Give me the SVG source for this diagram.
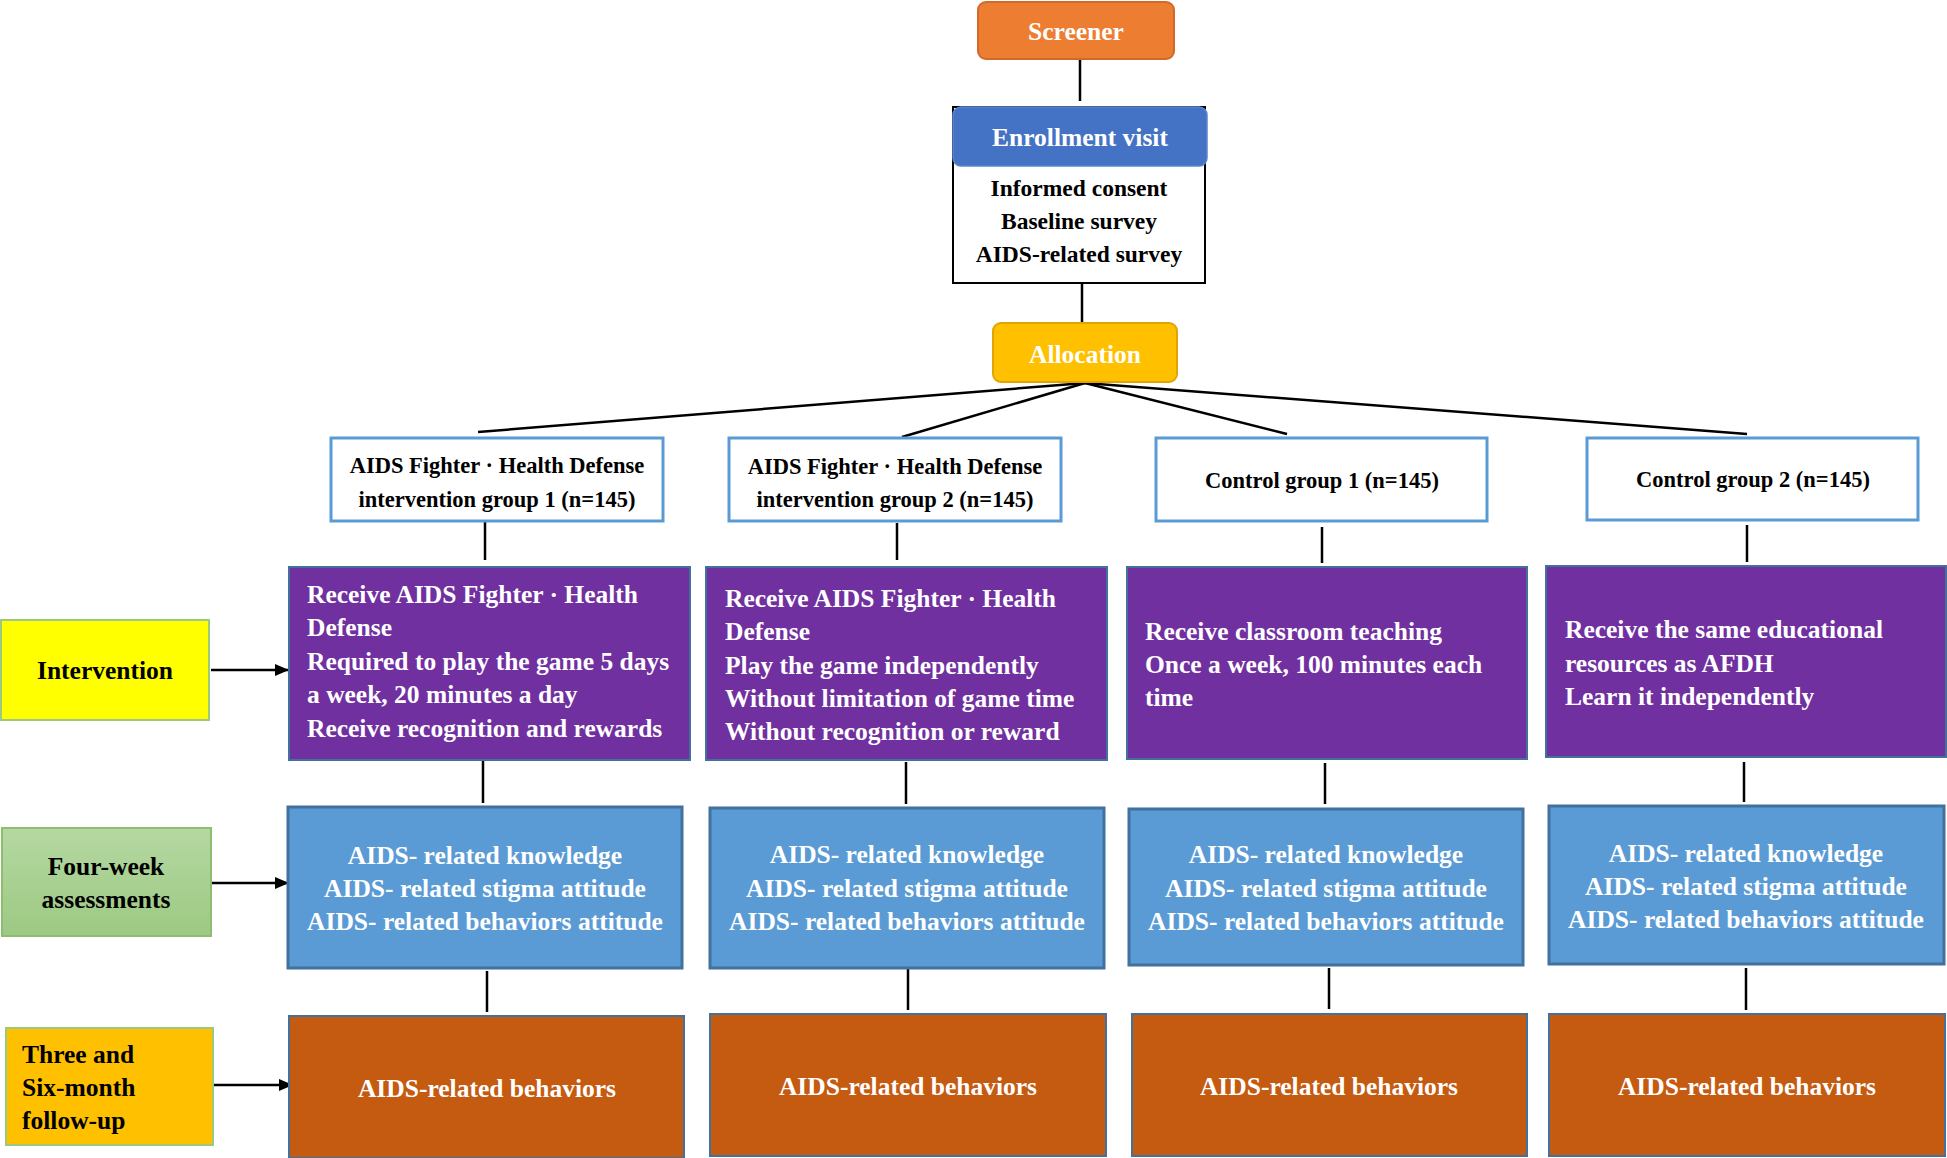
<svg xmlns="http://www.w3.org/2000/svg" width="1947" height="1158" viewBox="0 0 1947 1158">
<defs>
<style>
text{font-family:"Liberation Serif","Times New Roman",serif;font-weight:bold;}
.w{fill:#fff}
.k{fill:#000}
.c{text-anchor:middle}
.f25{font-size:25.5px}
.f23{font-size:23.5px}
.f22{font-size:22.5px}
.grp{fill:#fff;stroke:#5B9BD5;stroke-width:3}
.pur{fill:#7030A0;stroke:#41719C;stroke-width:2}
.blu{fill:#5B9BD5;stroke:#41719C;stroke-width:3}
.org{fill:#C55A11;stroke:#41719C;stroke-width:2}
.ln{stroke:#000;stroke-width:2.5;fill:none}
</style>
<linearGradient id="gGreen" x1="0" y1="0" x2="0" y2="1">
<stop offset="0" stop-color="#B5D8A2"/>
<stop offset="1" stop-color="#9DC983"/>
</linearGradient>
<marker id="arr" markerWidth="14" markerHeight="14" refX="13" refY="7" orient="auto" markerUnits="userSpaceOnUse">
<path d="M0,1 L14,7 L0,13 z" fill="#000"/>
</marker>
</defs>

<g id="connectors">
<line class="ln" x1="1080" y1="59" x2="1080" y2="101"/>
<line class="ln" x1="1082" y1="283" x2="1082" y2="324"/>
<line class="ln" x1="1085" y1="383" x2="478" y2="432"/>
<line class="ln" x1="1085" y1="383" x2="902" y2="437"/>
<line class="ln" x1="1085" y1="383" x2="1287" y2="434"/>
<line class="ln" x1="1085" y1="383" x2="1747" y2="434"/>
<line class="ln" x1="485" y1="518" x2="485" y2="560"/>
<line class="ln" x1="897" y1="523" x2="897" y2="560"/>
<line class="ln" x1="1322" y1="527" x2="1322" y2="563"/>
<line class="ln" x1="1747" y1="525" x2="1747" y2="562"/>
<line class="ln" x1="483" y1="761" x2="483" y2="803"/>
<line class="ln" x1="906" y1="762" x2="906" y2="804"/>
<line class="ln" x1="1325" y1="763" x2="1325" y2="804"/>
<line class="ln" x1="1744" y1="762" x2="1744" y2="802"/>
<line class="ln" x1="487" y1="971" x2="487" y2="1012"/>
<line class="ln" x1="908" y1="968" x2="908" y2="1010"/>
<line class="ln" x1="1329" y1="968" x2="1329" y2="1009"/>
<line class="ln" x1="1746" y1="968" x2="1746" y2="1010"/>
<line class="ln" x1="211" y1="670" x2="288" y2="670" marker-end="url(#arr)"/>
<line class="ln" x1="211" y1="883" x2="288" y2="883" marker-end="url(#arr)"/>
<line class="ln" x1="214" y1="1085" x2="292" y2="1085" marker-end="url(#arr)"/>
</g>

<g id="screener">
<rect x="978" y="2" width="196" height="57" rx="8" fill="#ED7D31" stroke="#D0692A" stroke-width="2"/>
<text class="w c f25" x="1076" y="40">Screener</text>
</g>

<g id="enrollment">
<rect x="953" y="107" width="252" height="176" fill="#fff" stroke="#000" stroke-width="2"/>
<rect x="953" y="107" width="254" height="59" rx="8" fill="#4472C4" stroke="#5A86D0" stroke-width="1.5"/>
<text class="w c f25" x="1080" y="146">Enrollment visit</text>
<text class="k c f23" x="1079" y="196">Informed consent</text>
<text class="k c f23" x="1079" y="229">Baseline survey</text>
<text class="k c f23" x="1079" y="262">AIDS-related survey</text>
</g>

<g id="allocation">
<rect x="993" y="323" width="184" height="59" rx="8" fill="#FFC000" stroke="#E0A500" stroke-width="2"/>
<text class="w c f25" x="1085" y="363">Allocation</text>
</g>

<g id="group1">
<rect class="grp" x="331" y="438" width="332" height="83"/>
<text class="k c f22" x="497" y="473">AIDS Fighter · Health Defense</text>
<text class="k c f22" x="497" y="507">intervention group 1 (n=145)</text>
</g>
<g id="group2">
<rect class="grp" x="729" y="438" width="332" height="83"/>
<text class="k c f22" x="895" y="474">AIDS Fighter · Health Defense</text>
<text class="k c f22" x="895" y="507">intervention group 2 (n=145)</text>
</g>
<g id="control1">
<rect class="grp" x="1156" y="438" width="331" height="83"/>
<text class="k c f22" x="1322" y="488">Control group 1 (n=145)</text>
</g>
<g id="control2">
<rect class="grp" x="1587" y="438" width="331" height="82"/>
<text class="k c f22" x="1753" y="487">Control group 2 (n=145)</text>
</g>

<g id="intervention1">
<rect class="pur" x="289" y="567" width="401" height="193"/>
<text class="w f25" x="307" y="603">Receive AIDS Fighter · Health</text>
<text class="w f25" x="307" y="636">Defense</text>
<text class="w f25" x="307" y="670">Required to play the game 5 days</text>
<text class="w f25" x="307" y="703">a week, 20 minutes a day</text>
<text class="w f25" x="307" y="737">Receive recognition and rewards</text>
</g>
<g id="intervention2">
<rect class="pur" x="706" y="567" width="401" height="193"/>
<text class="w f25" x="725" y="607">Receive AIDS Fighter · Health</text>
<text class="w f25" x="725" y="640">Defense</text>
<text class="w f25" x="725" y="674">Play the game independently</text>
<text class="w f25" x="725" y="707">Without limitation of game time</text>
<text class="w f25" x="725" y="740">Without recognition or reward</text>
</g>
<g id="intervention3">
<rect class="pur" x="1127" y="567" width="400" height="192"/>
<text class="w f25" x="1145" y="640">Receive classroom teaching</text>
<text class="w f25" x="1145" y="673">Once a week, 100 minutes each</text>
<text class="w f25" x="1145" y="706">time</text>
</g>
<g id="intervention4">
<rect class="pur" x="1546" y="566" width="400" height="191"/>
<text class="w f25" x="1565" y="638">Receive the same educational</text>
<text class="w f25" x="1565" y="672">resources as AFDH</text>
<text class="w f25" x="1565" y="705">Learn it independently</text>
</g>

<g id="assess1">
<rect class="blu" x="288" y="807" width="394" height="161"/>
<text class="w c f25" x="485" y="864">AIDS- related knowledge</text>
<text class="w c f25" x="485" y="897">AIDS- related stigma attitude</text>
<text class="w c f25" x="485" y="930">AIDS- related behaviors attitude</text>
</g>
<g id="assess2">
<rect class="blu" x="710" y="808" width="394" height="160"/>
<text class="w c f25" x="907" y="863">AIDS- related knowledge</text>
<text class="w c f25" x="907" y="897">AIDS- related stigma attitude</text>
<text class="w c f25" x="907" y="930">AIDS- related behaviors attitude</text>
</g>
<g id="assess3">
<rect class="blu" x="1129" y="809" width="394" height="156"/>
<text class="w c f25" x="1326" y="863">AIDS- related knowledge</text>
<text class="w c f25" x="1326" y="897">AIDS- related stigma attitude</text>
<text class="w c f25" x="1326" y="930">AIDS- related behaviors attitude</text>
</g>
<g id="assess4">
<rect class="blu" x="1549" y="806" width="395" height="158"/>
<text class="w c f25" x="1746" y="862">AIDS- related knowledge</text>
<text class="w c f25" x="1746" y="895">AIDS- related stigma attitude</text>
<text class="w c f25" x="1746" y="928">AIDS- related behaviors attitude</text>
</g>

<g id="follow1">
<rect class="org" x="289" y="1016" width="395" height="142"/>
<text class="w c f25" x="487" y="1097">AIDS-related behaviors</text>
</g>
<g id="follow2">
<rect class="org" x="710" y="1014" width="396" height="142"/>
<text class="w c f25" x="908" y="1095">AIDS-related behaviors</text>
</g>
<g id="follow3">
<rect class="org" x="1132" y="1014" width="395" height="142"/>
<text class="w c f25" x="1329" y="1095">AIDS-related behaviors</text>
</g>
<g id="follow4">
<rect class="org" x="1549" y="1014" width="396" height="142"/>
<text class="w c f25" x="1747" y="1095">AIDS-related behaviors</text>
</g>

<g id="label-intervention">
<rect x="1" y="620" width="208" height="100" fill="#FFFF00" stroke="#9BC97E" stroke-width="2"/>
<text class="k c f25" x="105" y="679">Intervention</text>
</g>
<g id="label-fourweek">
<rect x="2" y="828" width="209" height="108" fill="url(#gGreen)" stroke="#8DBD6F" stroke-width="2"/>
<text class="k c f25" x="106" y="875">Four-week</text>
<text class="k c f25" x="106" y="908">assessments</text>
</g>
<g id="label-followup">
<rect x="6" y="1028" width="207" height="117" fill="#FFC000" stroke="#9BC97E" stroke-width="2"/>
<text class="k f25" x="22" y="1063">Three and</text>
<text class="k f25" x="22" y="1096">Six-month</text>
<text class="k f25" x="22" y="1129">follow-up</text>
</g>
</svg>
